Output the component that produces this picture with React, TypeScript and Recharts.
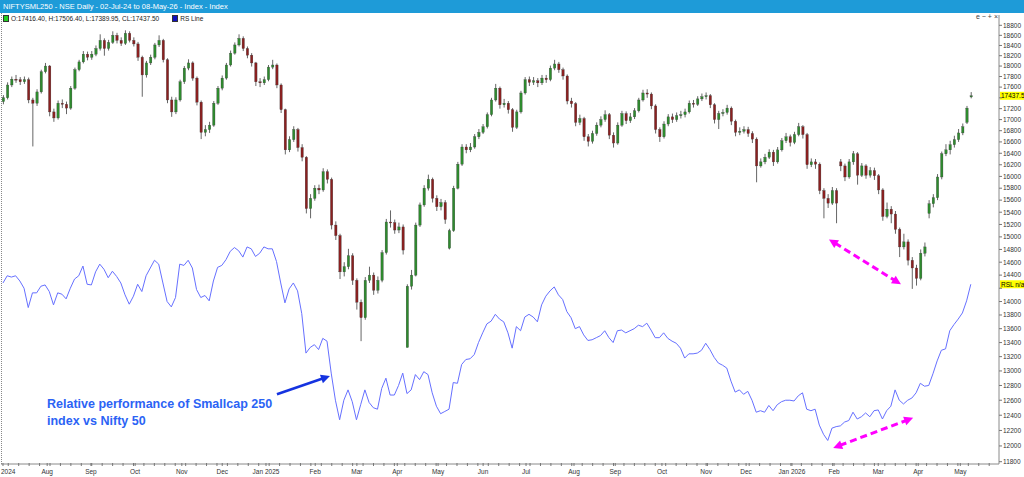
import React from "react";
import { ComposedChart, Bar, Line, XAxis, YAxis, ReferenceLine } from "recharts";

// one candle per two trading days, 02-Jul-24 .. 08-May-26
const opens = [
  17330, 17400, 17640, 17750, 17740, 17700, 17740, 17360, 17300, 17510,
  17890, 18000, 17140, 17030, 17300, 17280, 17210, 17580, 17930, 18080,
  18230, 18170, 18230, 18340, 18500, 18340, 18460, 18600, 18500, 18440,
  18640, 18500, 18430, 18170, 17830, 18060, 18170, 18410, 18500, 18120,
  17360, 17140, 17360, 17700, 17960, 18060, 17770, 17320, 16770, 16820,
  16900, 17300, 17580, 17770, 18020, 18250, 18410, 18540, 18340, 18210,
  18060, 17700, 17680, 17740, 17980, 18020, 17640, 17180, 16460, 16640,
  16820, 16500, 16330, 15460, 15630, 15800, 15770, 16080, 15950, 15190,
  15020, 14450, 14530, 14700, 14320, 13990, 13760, 14320, 14400, 14170,
  14320, 14750, 15240, 15230, 15110, 15160, 13330, 14230, 14400, 15190,
  15520, 15800, 15950, 15630, 15490, 15560, 14820, 15100, 15800, 16210,
  16510, 16460, 16510, 16690, 16770, 16870, 17090, 17360, 17580, 17270,
  17300, 17180, 16860, 17140, 17490, 17740, 17690, 17720, 17680, 17770,
  17740, 17960, 18040, 17930, 17810, 17340, 17290, 16950, 17020, 16690,
  16610, 16750, 16900, 17000, 17090, 16720, 16580, 16900, 17110, 16980,
  17050, 17160, 17360, 17490, 17470, 17250, 16820, 16690, 16920, 17050,
  17000, 17070, 17090, 17140, 17300, 17280, 17380, 17420, 17440, 17270,
  17000, 17110, 17130, 17210, 16970, 16770, 16790, 16820, 16750, 16650,
  16180, 16250, 16330, 16420, 16250, 16460, 16620, 16690, 16590, 16730,
  16870, 16730, 16200, 16250, 16210, 15760, 15630, 15550, 15760, 16250,
  16180, 15990, 16250, 16390, 16020, 16180, 16020, 16100, 16010, 15770,
  15330, 15450, 15370, 15120, 14840, 14920, 14630, 14510, 14350, 14740,
  15380, 15540, 15640, 15990, 16390, 16460, 16550, 16640, 16760, 16950,
  17416.4,
];

const highs = [
  17450, 17690, 17800, 17830, 17790, 17800, 17780, 17400, 17560, 17930,
  18060, 18020, 17200, 17350, 17370, 17330, 17620, 17970, 18120, 18290,
  18280, 18290, 18400, 18620, 18540, 18510, 18680, 18650, 18560, 18700,
  18680, 18560, 18470, 18200, 18100, 18220, 18450, 18600, 18530, 18150,
  17420, 17410, 17740, 18000, 18130, 18090, 17800, 17350, 16900, 16960,
  17340, 17620, 17820, 18060, 18300, 18460, 18620, 18580, 18380, 18250,
  18080, 17770, 17800, 18020, 18120, 18050, 17670, 17200, 16700, 16880,
  16850, 16560, 16350, 15700, 15850, 15860, 16140, 16120, 15980, 15250,
  15050, 14600, 14810, 14740, 14350, 14030, 14370, 14530, 14440, 14380,
  14790, 15290, 15430, 15280, 15230, 15200, 14260, 14480, 15230, 15560,
  15850, 16030, 15980, 15680, 15620, 15600, 15130, 15840, 16250, 16560,
  16560, 16580, 16740, 16830, 16920, 17130, 17400, 17660, 17610, 17380,
  17340, 17210, 17180, 17530, 17790, 17800, 17790, 17770, 17830, 17830,
  18010, 18120, 18080, 17970, 17840, 17400, 17320, 17090, 17050, 16740,
  16800, 16950, 17060, 17170, 17120, 16770, 16950, 17160, 17150, 17120,
  17210, 17400, 17550, 17560, 17500, 17280, 16860, 16970, 17100, 17110,
  17130, 17160, 17200, 17350, 17360, 17430, 17480, 17500, 17470, 17300,
  17160, 17190, 17270, 17240, 17000, 16860, 16880, 16870, 16790, 16680,
  16310, 16390, 16470, 16460, 16510, 16670, 16760, 16730, 16780, 16940,
  16900, 16760, 16310, 16300, 16240, 15800, 15700, 15820, 15800, 16300,
  16220, 16300, 16440, 16420, 16230, 16210, 16160, 16150, 16040, 15800,
  15560, 15500, 15420, 15150, 15050, 14960, 14680, 14560, 14800, 14910,
  15600, 15700, 16040, 16430, 16560, 16620, 16710, 16830, 16930, 17250,
  17506.4,
];

const lows = [
  17280, 17370, 17600, 17680, 17640, 17660, 17300, 16520, 17250, 17480,
  17860, 17060, 16960, 17000, 17210, 17100, 17180, 17550, 17900, 18050,
  18110, 18120, 18190, 18300, 18200, 18300, 18430, 18440, 18390, 18410,
  18460, 18380, 18100, 17420, 17780, 18020, 18130, 18370, 18070, 17300,
  17050, 17100, 17330, 17660, 17920, 17720, 17260, 16650, 16700, 16760,
  16870, 17270, 17540, 17740, 17990, 18220, 18380, 18290, 18150, 17990,
  17620, 17600, 17640, 17710, 17940, 17580, 17120, 16380, 16420, 16600,
  16430, 16260, 15380, 15300, 15590, 15700, 15740, 15880, 15120, 14950,
  14340, 14380, 14490, 14250, 13880, 13420, 13730, 14280, 14100, 14120,
  14290, 14720, 15150, 15050, 15060, 14720, 13330, 14180, 14380, 15160,
  15490, 15760, 15560, 15420, 15430, 15210, 14800, 15080, 15780, 16180,
  16400, 16420, 16480, 16650, 16740, 16840, 17060, 17330, 17200, 17220,
  17110, 16780, 16830, 17110, 17460, 17620, 17640, 17600, 17640, 17680,
  17710, 17920, 17870, 17740, 17280, 17220, 16880, 16900, 16620, 16520,
  16570, 16710, 16860, 16960, 16650, 16500, 16550, 16870, 16920, 16940,
  17010, 17130, 17330, 17400, 17190, 16750, 16600, 16660, 16880, 16940,
  16960, 17020, 17040, 17110, 17220, 17250, 17340, 17370, 17210, 16930,
  16830, 17060, 17090, 16900, 16700, 16720, 16750, 16690, 16580, 15900,
  16150, 16210, 16300, 16180, 16220, 16430, 16580, 16520, 16560, 16700,
  16660, 16130, 16160, 16130, 15700, 15300, 15470, 15520, 15220, 16090,
  15920, 15960, 16200, 15860, 15990, 15960, 15980, 15940, 15700, 15260,
  15300, 15220, 15050, 14680, 14800, 14550, 14190, 14240, 14320, 14690,
  15300, 15480, 15600, 15950, 16350, 16380, 16500, 16600, 16720, 16920,
  17389.95,
];

const closes = [
  17400, 17640, 17750, 17740, 17700, 17740, 17360, 17300, 17510, 17890,
  18000, 17140, 17030, 17300, 17280, 17210, 17580, 17930, 18080, 18230,
  18170, 18230, 18340, 18500, 18340, 18460, 18600, 18500, 18440, 18640,
  18500, 18430, 18170, 17830, 18060, 18170, 18410, 18500, 18120, 17360,
  17140, 17360, 17700, 17960, 18060, 17770, 17320, 16770, 16820, 16900,
  17300, 17580, 17770, 18020, 18250, 18410, 18540, 18340, 18210, 18060,
  17700, 17680, 17740, 17980, 18020, 17640, 17180, 16460, 16640, 16820,
  16500, 16330, 15460, 15630, 15800, 15770, 16080, 15950, 15190, 15020,
  14450, 14530, 14700, 14320, 13990, 13760, 14320, 14400, 14170, 14320,
  14750, 15240, 15230, 15110, 15160, 14790, 14230, 14400, 15190, 15520,
  15800, 15950, 15630, 15490, 15560, 15280, 15100, 15800, 16210, 16510,
  16460, 16510, 16690, 16770, 16870, 17090, 17360, 17580, 17270, 17300,
  17180, 16860, 17140, 17490, 17740, 17690, 17720, 17680, 17770, 17740,
  17960, 18040, 17930, 17810, 17340, 17290, 16950, 17020, 16690, 16610,
  16750, 16900, 17000, 17090, 16720, 16580, 16900, 17110, 16980, 17050,
  17160, 17360, 17490, 17470, 17250, 16820, 16690, 16920, 17050, 17000,
  17070, 17090, 17140, 17300, 17280, 17380, 17420, 17440, 17270, 17000,
  17110, 17130, 17210, 16970, 16770, 16790, 16820, 16750, 16650, 16180,
  16250, 16330, 16420, 16250, 16460, 16620, 16690, 16590, 16730, 16870,
  16730, 16200, 16250, 16210, 15760, 15630, 15550, 15760, 15550, 16180,
  15990, 16250, 16390, 16020, 16180, 16020, 16100, 16010, 15770, 15330,
  15450, 15370, 15120, 14840, 14920, 14630, 14510, 14350, 14740, 14840,
  15540, 15640, 15990, 16390, 16460, 16550, 16640, 16760, 16870, 17210,
  17437.5,
];

// relative strength line, plotted on the price scale
const rsLine = [
  14280, 14390, 14370, 14390, 14310, 14200, 13910, 14130, 14130, 14230,
  14250, 14150, 13950, 14130, 14110, 14040, 14200, 14340, 14390, 14540,
  14260, 14250, 14450, 14570, 14490, 14360, 14460, 14380, 14280, 14100,
  13960, 14080, 14260, 14150, 14390, 14510, 14630, 14570, 14280, 14000,
  13920, 14060, 14570, 14550, 14630, 14510, 14180, 14060, 14090, 14010,
  14310, 14520, 14550, 14640, 14770, 14830, 14780, 14680, 14840, 14810,
  14690, 14740, 14840, 14810, 14810, 14610, 14280, 13980, 14190, 14280,
  14160, 13820, 13250, 13330, 13370, 13300, 13460, 13420, 12970, 12600,
  12340, 12600, 12740, 12580, 12340, 12540, 12740, 12570, 12500, 12480,
  12760, 12900, 12670, 12670, 12800, 12970, 12690, 12740, 12950, 12880,
  12990, 12950, 12700, 12520, 12420, 12450, 12480, 12840, 12830, 13090,
  13160, 13170, 13230, 13400, 13540, 13670, 13710, 13810, 13740, 13700,
  13540, 13320, 13630, 13570, 13770, 13810, 13770, 13700, 13950, 14080,
  14160, 14220, 14100, 14030, 13850, 13760, 13600, 13630, 13510, 13430,
  13440, 13470, 13500, 13570, 13470, 13400, 13570, 13580, 13540, 13570,
  13600, 13650, 13630, 13680, 13580, 13470, 13470, 13540, 13460, 13420,
  13390, 13320, 13180, 13240, 13240, 13250, 13290, 13390, 13300, 13190,
  13110, 13080, 13040, 12860, 12710, 12740, 12680, 12720, 12600, 12440,
  12460, 12440, 12530, 12460, 12540, 12580, 12600, 12600, 12590, 12660,
  12700, 12480, 12460, 12480, 12270, 12150, 12070, 12230, 12250, 12260,
  12310, 12330, 12440, 12350, 12380, 12430, 12380, 12460, 12470, 12350,
  12460, 12520, 12740, 12600, 12550, 12600, 12630, 12700, 12830, 12790,
  12800, 12960, 13140, 13290, 13310, 13570, 13660, 13740, 13830, 14010,
  14260,
];

const priceTicks = [
  11800, 12000, 12200, 12400, 12600, 12800, 13000, 13200, 13400, 13600,
  13800, 14000, 14200, 14400, 14600, 14800, 15000, 15200, 15400, 15600,
  15800, 16000, 16200, 16400, 16600, 16800, 17000, 17200, 17400, 17600,
  17800, 18000, 18200, 18400, 18600, 18800,
];
// tick labels hidden under the yellow last-value flags
const coveredTicks = [17400, 14200];

// first candle slot of each month
const monthTicks = [
  0, 10.5, 20.9, 31.4, 42.5, 52.1, 62.5, 74.2, 84.1, 93.7, 103.4, 114.1,
  124.3, 135.7, 145.5, 156.6, 167.1, 176.6, 187.5, 197.5, 208, 217.5, 227.5,
];
const monthLabels = [
  "2024", "Aug", "Sep", "Oct", "Nov", "Dec", "Jan 2025", "Feb", "Mar", "Apr", "May", "Jun",
  "Jul", "Aug", "Sep", "Oct", "Nov", "Dec", "Jan 2026", "Feb", "Mar", "Apr", "May",
];

const data = closes.map((close, i) => ({
  slot: i,
  span: [lows[i], highs[i]],
  open: opens[i],
  high: highs[i],
  low: lows[i],
  close,
  rs: rsLine[i],
}));

const weekTicks: number[] = [];
for (let t = 1.25; t < 236.5; t += 2.48) weekTicks.push(Math.round(t * 100) / 100);
const xTicks = [...monthTicks, ...weekTicks].sort((a, b) => a - b);

const FONT = "'Liberation Sans', Arial, sans-serif";

const Candle = (props: any) => {
  const { x, y, width, height, payload } = props;
  if (!payload || height === undefined) return null;
  const top = Math.min(y, y + height);
  const h = Math.abs(height);
  const lh = Math.log(payload.high);
  const ll = Math.log(payload.low);
  const toY = (v: number) => top + (h * (lh - Math.log(v))) / (lh - ll || 1);
  const cx = x + width / 2;
  const up = payload.close >= payload.open;
  const bTop = toY(Math.max(payload.open, payload.close));
  const bBot = toY(Math.min(payload.open, payload.close));
  return (
    <g>
      <line x1={cx} x2={cx} y1={top} y2={top + h} stroke="#666" strokeWidth={1} />
      <rect
        x={cx - 1.2}
        y={bTop}
        width={2.4}
        height={Math.max(bBot - bTop, 1)}
        fill={up ? "#2e8b2e" : "#8b2020"}
        stroke="#3a3a3a"
        strokeWidth={0.3}
      />
    </g>
  );
};

const XTick = (props: any) => {
  const { x, y, payload } = props;
  const idx = monthTicks.indexOf(payload.value);
  return (
    <g>
      <line x1={x} x2={x} y1={y - 1} y2={y + 2} stroke="#777" strokeWidth={1} />
      {idx >= 0 && (
        <text
          x={idx === 0 ? 1 : x}
          y={y + 9.5}
          textAnchor={idx === 0 ? "start" : "middle"}
          fontSize={6.5}
          fontFamily={FONT}
          fill="#333"
        >
          {monthLabels[idx]}
        </text>
      )}
    </g>
  );
};

const YTick = (props: any) => {
  const { x, y, payload } = props;
  if (coveredTicks.includes(payload.value)) return null;
  return (
    <text x={x} y={y} dy={2.3} textAnchor="start" fontSize={6.5} fontFamily={FONT} fill="#333">
      {payload.value}
    </text>
  );
};

const axisFlag = (text: string) => (props: any) => {
  const { viewBox } = props;
  if (!viewBox) return null;
  const x = viewBox.x + viewBox.width + 1;
  const y = viewBox.y;
  return (
    <g>
      <rect x={x} y={y - 4} width={24} height={8} fill="#ffff00" />
      <text x={x + 1} y={y + 2.5} fontSize={6.5} fontFamily={FONT} fill="#000">
        {text}
      </text>
    </g>
  );
};

const arrowShape = (color: string, w: number, dash: string | undefined, twoHeads: boolean) => (props: any) => {
  const { x1, y1, x2, y2 } = props;
  const a = Math.atan2(y2 - y1, x2 - x1);
  const L = 9;
  const W = 4.5;
  const head = (tx: number, ty: number, ang: number) => {
    const bx = tx - L * Math.cos(ang);
    const by = ty - L * Math.sin(ang);
    const px = -Math.sin(ang) * W;
    const py = Math.cos(ang) * W;
    return `${tx},${ty} ${bx + px},${by + py} ${bx - px},${by - py}`;
  };
  const sx = twoHeads ? x1 + (L - 2) * Math.cos(a) : x1;
  const sy = twoHeads ? y1 + (L - 2) * Math.sin(a) : y1;
  const ex = x2 - (L - 2) * Math.cos(a);
  const ey = y2 - (L - 2) * Math.sin(a);
  return (
    <g>
      <line x1={sx} y1={sy} x2={ex} y2={ey} stroke={color} strokeWidth={w} strokeDasharray={dash} />
      <polygon points={head(x2, y2, a)} fill={color} />
      {twoHeads && <polygon points={head(x1, y1, a + Math.PI)} fill={color} />}
    </g>
  );
};

export default function App() {
  return (
    <div style={{ position: "absolute", left: 0, top: 0, width: 1024, height: 477, background: "#fff", fontFamily: FONT, overflow: "hidden" }}>
      <ComposedChart width={1024} height={477} data={data} margin={{ top: 15, right: 0, bottom: 0, left: 1 }}>
        <XAxis
          dataKey="slot"
          type="number"
          domain={[-0.475, 236.7]}
          allowDataOverflow
          ticks={xTicks}
          interval={0}
          tick={<XTick />}
          tickLine={false}
          tickSize={0}
          tickMargin={0}
          height={13}
          axisLine={{ stroke: "#8a8a8a" }}
        />
        <YAxis
          orientation="right"
          scale="log"
          domain={[11771, 19008]}
          allowDataOverflow
          ticks={priceTicks}
          interval={0}
          width={25}
          tickSize={3}
          tickMargin={1}
          tick={<YTick />}
          tickLine={{ stroke: "#777" }}
          axisLine={{ stroke: "#8a8a8a" }}
        />
        <Bar dataKey="span" barSize={3} shape={<Candle />} isAnimationActive={false} />
        <Line
          dataKey="rs"
          type="linear"
          stroke="#6670ff"
          strokeWidth={1}
          dot={false}
          activeDot={false}
          isAnimationActive={false}
        />
        <ReferenceLine
          segment={[{ x: 196.3, y: 14960 }, { x: 213.4, y: 14260 }]}
          stroke="#ff00ff"
          shape={arrowShape("#ff00ff", 3, "7 4", true)}
        />
        <ReferenceLine
          segment={[{ x: 197.3, y: 11975 }, { x: 216.3, y: 12365 }]}
          stroke="#ff00ff"
          shape={arrowShape("#ff00ff", 3, "7 4", true)}
        />
        <ReferenceLine
          segment={[{ x: 65.1, y: 12680 }, { x: 77.7, y: 12930 }]}
          stroke="#1533e0"
          shape={arrowShape("#1533e0", 2.5, undefined, false)}
        />
        <ReferenceLine y={17437.5} stroke="none" label={axisFlag("17437.5")} />
        <ReferenceLine y={14260} stroke="none" label={axisFlag("RSL n/a")} />
      </ComposedChart>

      <div style={{ position: "absolute", left: 0, top: 0, width: 1024, height: 13, background: "#1e9bd8", color: "#fff", fontSize: 7.5, lineHeight: "13px", paddingLeft: 3, boxSizing: "border-box", whiteSpace: "nowrap" }}>
        NIFTYSML250 - NSE Daily - 02-Jul-24 to 08-May-26 - Index - Index
      </div>
      <div style={{ position: "absolute", left: 1, top: 13, width: 1, height: 451, borderLeft: "1px dotted #888" }} />
      <div style={{ position: "absolute", left: 3, top: 15, fontSize: 6.5, lineHeight: "7px", color: "#222", whiteSpace: "nowrap", display: "flex", alignItems: "center" }}>
        <span style={{ display: "inline-block", width: 4, height: 5, background: "#22cc22", border: "0.5px solid #333", marginRight: 2 }} />
        O:17416.40, H:17506.40, L:17389.95, CL:17437.50
        <span style={{ display: "inline-block", width: 4, height: 5, background: "#1010c0", border: "0.5px solid #333", marginLeft: 13, marginRight: 2 }} />
        RS Line
      </div>
      <div style={{ position: "absolute", left: 976, top: 13, fontSize: 7, lineHeight: "8px", color: "#444", whiteSpace: "nowrap" }}>
        e − + ×
      </div>
      <div style={{ position: "absolute", left: 47, top: 396, fontSize: 12.5, lineHeight: "17px", fontWeight: "bold", color: "#2b63f5", whiteSpace: "nowrap" }}>
        Relative performance of Smallcap 250
        <br />
        index vs Nifty 50
      </div>
    </div>
  );
}
